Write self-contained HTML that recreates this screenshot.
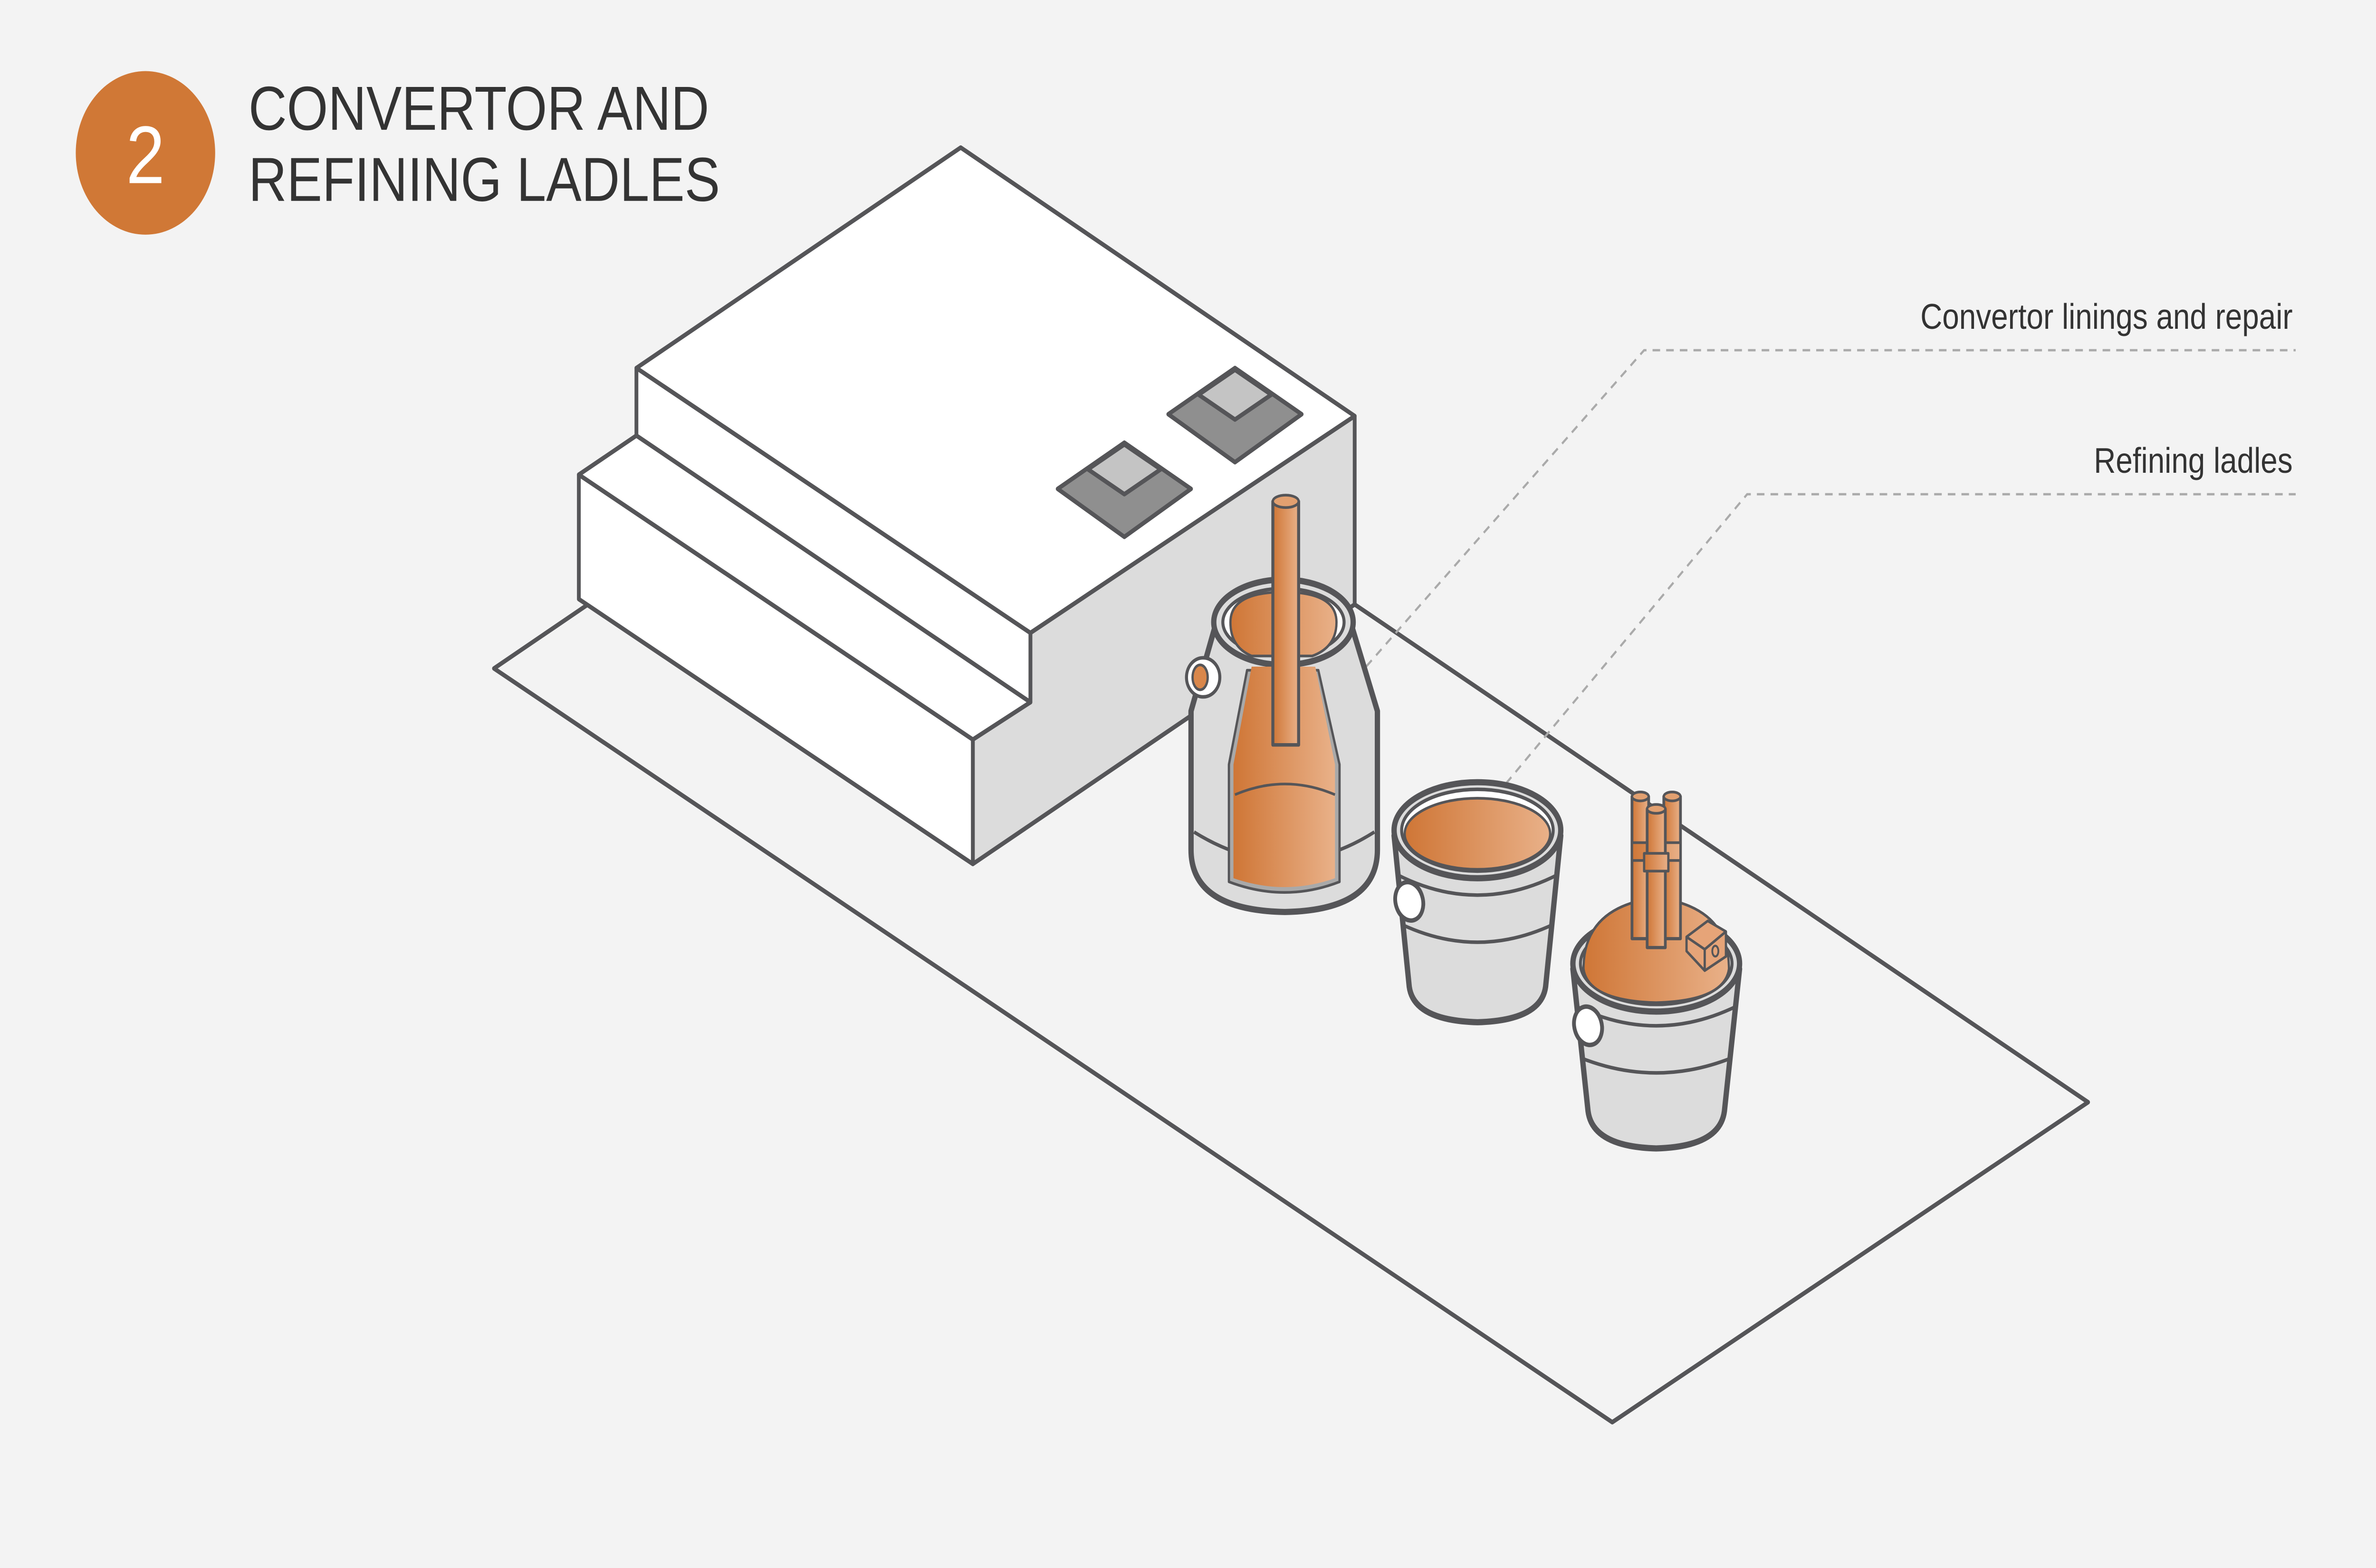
<!DOCTYPE html>
<html><head><meta charset="utf-8"><style>
html,body{margin:0;padding:0;background:#f3f3f3;width:100%;height:100%;overflow:hidden;}
svg{display:block;position:absolute;left:0;top:0;width:100vw;height:100vh;}
</style></head><body>
<svg viewBox="0 0 1568 882" preserveAspectRatio="none" xmlns="http://www.w3.org/2000/svg">
<defs>
<linearGradient id="og" x1="0" y1="0" x2="1" y2="0">
<stop offset="0" stop-color="#cf7636"/><stop offset="1" stop-color="#e9b189"/>
</linearGradient>
</defs>
<rect x="0" y="0" width="1568" height="882" fill="#f3f3f3"/>
<circle cx="96" cy="86" r="46" fill="#d07836"/>
<text x="96" y="103" text-anchor="middle" font-family="Liberation Sans, sans-serif" font-size="46" fill="#fff" font-weight="300">2</text>
<text x="164" y="73" font-family="Liberation Sans, sans-serif" font-size="35" fill="#333">CONVERTOR AND</text>
<text x="164" y="113" font-family="Liberation Sans, sans-serif" font-size="35" fill="#333">REFINING LADLES</text>

<g stroke="#555558" stroke-width="2.5" stroke-linejoin="round" stroke-linecap="round">
<polygon points="326,376 1064,800 1378,620 894,340 388,340" fill="#f3f3f3"/>
<polygon points="642,416 642,486 894,340 894,234 680,356 680,395" fill="#dcdcdc"/>
<polygon points="382,267 382,337 642,486 642,416" fill="#fff"/>
<polygon points="382,267 420,245 680,395 642,416" fill="#fff"/>
<polygon points="420,207 420,245 680,395 680,356" fill="#fff"/>
<polygon points="420,207 634,83 894,234 680,356" fill="#fff"/>
<polygon points="698,275 742,249 786,275 742,302" fill="#8f8f8f"/>
<polygon points="718,264 742,250 766,264 742,278" fill="#c4c4c4"/>
<polygon points="771,233 815,207 859,233 815,260" fill="#8f8f8f"/>
<polygon points="791,222 815,208 839,222 815,236" fill="#c4c4c4"/>
</g>

<g stroke="#aaa" stroke-width="1.3" stroke-dasharray="5,4" fill="none">
<polyline points="850,425 1085,197 1515,197"/>
<polyline points="975,460 1153,278 1515,278"/>
</g>
<text x="1513" y="185" text-anchor="end" font-family="Liberation Sans, sans-serif" font-size="20" fill="#333">Convertor linings and repair</text>
<text x="1513" y="266" text-anchor="end" font-family="Liberation Sans, sans-serif" font-size="20" fill="#333">Refining ladles</text>

<g stroke="#555558" stroke-width="3" stroke-linejoin="round">
<path d="M802,352 L786,400 L786,478 Q786,512 848,513 Q909,512 909,478 L909,400 L892,352 Z" fill="#dcdcdc" stroke-width="3.5"/>
<path d="M788,468 Q848,500 907,468" fill="none" stroke-width="2"/>
<ellipse cx="847" cy="350" rx="46" ry="24" fill="#dcdcdc" stroke-width="3.5"/>
<ellipse cx="847" cy="350" rx="40" ry="19" fill="#fff" stroke-width="2"/>
<path d="M811,496 L811,430 L823,377 L870,377 L884,430 L884,496 Q848,508 811,496 Z" fill="#a9a9a9" stroke-width="1.5"/>
<path d="M814,494 L814,430 L826,375 L868,375 L881,430 L881,494 Q848,504 814,494 Z" fill="url(#og)" stroke="none"/>
<path d="M812,350 Q812,333 847,333 Q882,333 882,350 Q882,364 866,369 L826,369 Q812,364 812,350 Z" fill="url(#og)" stroke-width="1.5"/>
<path d="M815,447 Q848,435 881,447" fill="none" stroke-width="1.5"/>
<rect x="840" y="282" width="17" height="137" fill="url(#og)" stroke-width="2"/>
<ellipse cx="848.5" cy="282" rx="8.5" ry="3.5" fill="#e2a070" stroke-width="1.5"/>
<ellipse cx="794" cy="381" rx="11" ry="11" fill="#fff" stroke-width="2"/>
<ellipse cx="792" cy="381" rx="5" ry="7" fill="#d9874b" stroke-width="1.5"/>

<path d="M920,470 L930,555 Q933,574 975,575 Q1017,574 1020,555 L1030,470 Z" fill="#dcdcdc" stroke-width="3.5"/>
<path d="M922,492 Q975,515 1028,492" fill="none" stroke-width="2"/>
<path d="M925,520 Q975,540 1025,520" fill="none" stroke-width="2"/>
<ellipse cx="975" cy="467" rx="55" ry="27" fill="#dcdcdc" stroke-width="3.5"/>
<ellipse cx="975" cy="467" rx="50" ry="23" fill="#fff" stroke-width="2"/>
<ellipse cx="975" cy="469" rx="48" ry="20" fill="url(#og)" stroke-width="1.5"/>
<ellipse cx="930" cy="507" rx="9" ry="11" fill="#fff" stroke-width="2.5" transform="rotate(-20 930 507)"/>

<path d="M1038,545 L1048,625 Q1051,645 1093,646 Q1135,645 1138,625 L1148,545 Z" fill="#dcdcdc" stroke-width="3.5"/>
<path d="M1040,566 Q1093,588 1146,566" fill="none" stroke-width="2"/>
<path d="M1043,595 Q1093,612 1143,595" fill="none" stroke-width="2"/>
<ellipse cx="1093" cy="542" rx="55" ry="27" fill="#dcdcdc" stroke-width="3.5"/>
<ellipse cx="1093" cy="542" rx="50" ry="23" fill="#fff" stroke-width="2"/>
<path d="M1045,545 Q1045,510 1093,505 Q1141,510 1141,545 Q1138,563 1093,564 Q1048,563 1045,545 Z" fill="url(#og)" stroke-width="1.5"/>
<rect x="1077" y="448" width="11" height="80" fill="url(#og)" stroke-width="1.8"/>
<ellipse cx="1082.5" cy="448" rx="5.5" ry="2.5" fill="#e2a070" stroke-width="1.5"/>
<rect x="1098" y="448" width="11" height="80" fill="url(#og)" stroke-width="1.8"/>
<ellipse cx="1103.5" cy="448" rx="5.5" ry="2.5" fill="#e2a070" stroke-width="1.5"/>
<rect x="1077" y="474" width="32" height="10" fill="url(#og)" stroke-width="1.5"/>
<rect x="1087" y="455" width="12" height="78" fill="url(#og)" stroke-width="1.8"/>
<ellipse cx="1093" cy="455" rx="6" ry="2.5" fill="#e2a070" stroke-width="1.5"/>
<rect x="1085" y="480" width="16" height="10" fill="url(#og)" stroke-width="1.5"/>
<polygon points="1113,527 1127,518 1139,524 1139,538 1125,546 1113,535" fill="#e6a478" stroke-width="1.5"/>
<polyline points="1113,527 1125,534 1139,524" fill="none" stroke-width="1.5"/>
<line x1="1125" y1="534" x2="1125" y2="546" stroke-width="1.5"/>
<ellipse cx="1132" cy="535" rx="2" ry="3" fill="none" stroke-width="1.2"/>
<ellipse cx="1048" cy="577" rx="9" ry="11" fill="#fff" stroke-width="2.5" transform="rotate(-20 1048 577)"/>
</g>
</svg>
</body></html>
